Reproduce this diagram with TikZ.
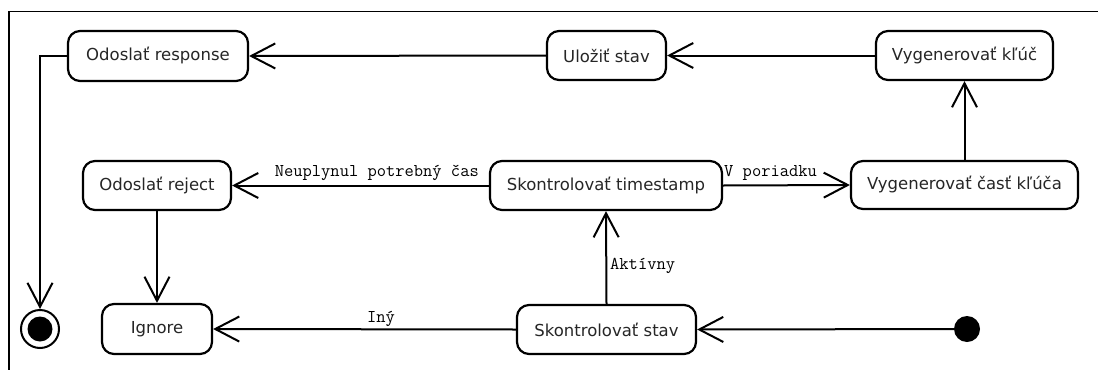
\documentclass[tikz,border=0pt]{standalone}
\usepackage{fontspec}
\setmainfont{DejaVu Sans}
\usetikzlibrary{arrows.meta}
\begin{document}
\begin{tikzpicture}[x=1pt,y=-1pt,
  act/.style={draw, line width=2.2pt, rounded corners=12pt, inner sep=0pt,
    font=\fontsize{16.5}{18}\selectfont, text=black!85},
  flow/.style={line width=2pt, -{Straight Barb[length=24pt,width=25pt]}},
  lbl/.style={inner sep=0pt, font=\ttfamily\fontsize{18}{20}\selectfont}]
  % canvas and frame
  \fill[white] (0,0) rectangle (1098,370);
  \useasboundingbox (0,0) rectangle (1098,370);
  \draw[line width=1.3pt] (1098,11.5) -- (9,11.5) -- (9,370);

  % actions
  \node[act, minimum width=180pt, minimum height=50pt] (resp) at (158,56) {Odoslať response};
  \node[act, minimum width=119pt, minimum height=49pt] (ulozit) at (606.5,55.5) {Uložiť stav};
  \node[act, minimum width=177pt, minimum height=49pt] (kluc) at (964.5,55.5) {Vygenerovať kľúč};
  \node[act, minimum width=148pt, minimum height=49pt] (reject) at (157,185.5) {Odoslať reject};
  \node[act, minimum width=232pt, minimum height=49pt] (tstamp) at (606,185.5) {Skontrolovať timestamp};
  \node[act, minimum width=227pt, minimum height=48pt] (cast) at (964.5,185) {Vygenerovať časť kľúča};
  \node[act, minimum width=110pt, minimum height=50pt] (ignore) at (157,329) {Ignore};
  \node[act, minimum width=179pt, minimum height=49pt] (stav) at (606.5,329.5) {Skontrolovať stav};

  % initial and final states
  \node[circle, fill, inner sep=0pt, minimum size=26pt] (init) at (967,329) {};
  \node[circle, draw, line width=2pt, inner sep=0pt, minimum size=38pt] (final) at (40,329) {};
  \node[circle, fill, inner sep=0pt, minimum size=25pt] (finaldot) at (final) {};

  % transitions
  \draw[flow] (init) -- (stav.east);
  \draw[flow] (stav.north) -- (tstamp.south);
  \draw[flow] (stav.west) -- (ignore.east);
  \draw[flow] (tstamp.west) -- (reject.east);
  \draw[flow] (tstamp.east) -- (cast.west);
  \draw[flow] (reject.south) -- (ignore.north);
  \draw[flow] (cast.north) -- (kluc.south);
  \draw[flow] (kluc.west) -- (ulozit.east);
  \draw[flow] (ulozit.west) -- (resp.east);
  \draw[flow] (resp.west) -| (final.north);

  % guards
  \node[lbl, anchor=east] (gwait) at (479,173) {Neuplynul potrebný čas};
  \node[lbl, anchor=west] (gok) at (724,173) {V poriadku};
  \node[lbl, anchor=west] (gactive) at (610,266) {Aktívny};
  \node[lbl] (gother) at (381,319) {Iný};
\end{tikzpicture}
\end{document}
